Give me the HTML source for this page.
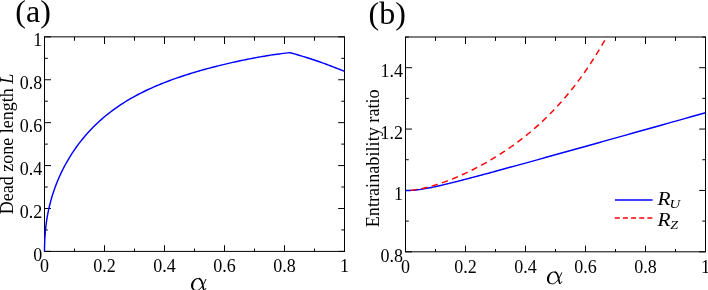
<!DOCTYPE html><html><head><meta charset="utf-8"><style>html,body{margin:0;padding:0;background:#fff}svg{display:block;will-change:transform;opacity:0.999}text{font-family:"Liberation Serif",serif;fill:#000}</style></head><body>
<svg width="708" height="290" viewBox="0 0 708 290">
<rect width="708" height="290" fill="#fff"/>
<text x="15.3" y="21.7" font-size="32">(a)</text>
<text x="368.5" y="23.5" font-size="32">(b)</text>
<path d="M44.50,251.4v-6.2M44.50,36.85v7.1M104.50,251.4v-6.2M104.50,36.85v7.1M164.50,251.4v-6.2M164.50,36.85v7.1M224.50,251.4v-6.2M224.50,36.85v7.1M284.50,251.4v-6.2M284.50,36.85v7.1M344.50,251.4v-6.2M344.50,36.85v7.1M74.50,251.4v-2.8M74.50,36.85v3.9M134.50,251.4v-2.8M134.50,36.85v3.9M194.50,251.4v-2.8M194.50,36.85v3.9M254.50,251.4v-2.8M254.50,36.85v3.9M314.50,251.4v-2.8M314.50,36.85v3.9M44.5,251.40h6.5M344.5,251.40h-6.3M44.5,208.49h6.5M344.5,208.49h-6.3M44.5,165.58h6.5M344.5,165.58h-6.3M44.5,122.67h6.5M344.5,122.67h-6.3M44.5,79.76h6.5M344.5,79.76h-6.3M44.5,36.85h6.5M344.5,36.85h-6.3M44.5,229.94h3.3M344.5,229.94h-3.2M44.5,187.03h3.3M344.5,187.03h-3.2M44.5,144.12h3.3M344.5,144.12h-3.2M44.5,101.22h3.3M344.5,101.22h-3.2M44.5,58.31h3.3M344.5,58.31h-3.2" stroke="#000" stroke-width="1.0" fill="none"/>
<rect x="44.5" y="36.85" width="300.0" height="214.55" fill="none" stroke="#000" stroke-width="1.0"/>
<path d="M405.50,251.8v-6.2M405.50,37.0v7.1M465.50,251.8v-6.2M465.50,37.0v7.1M525.50,251.8v-6.2M525.50,37.0v7.1M585.50,251.8v-6.2M585.50,37.0v7.1M645.50,251.8v-6.2M645.50,37.0v7.1M705.50,251.8v-6.2M705.50,37.0v7.1M435.50,251.8v-2.8M435.50,37.0v3.9M495.50,251.8v-2.8M495.50,37.0v3.9M555.50,251.8v-2.8M555.50,37.0v3.9M615.50,251.8v-2.8M615.50,37.0v3.9M675.50,251.8v-2.8M675.50,37.0v3.9M405.5,251.80h6.5M705.5,251.80h-6.3M405.5,190.43h6.5M705.5,190.43h-6.3M405.5,129.06h6.5M705.5,129.06h-6.3M405.5,67.69h6.5M705.5,67.69h-6.3M405.5,221.11h3.3M705.5,221.11h-3.2M405.5,159.74h3.3M705.5,159.74h-3.2M405.5,98.37h3.3M705.5,98.37h-3.2M405.5,37.00h3.3M705.5,37.00h-3.2" stroke="#000" stroke-width="1.0" fill="none"/>
<rect x="405.5" y="37.0" width="300.0" height="214.8" fill="none" stroke="#000" stroke-width="1.0"/>
<clipPath id="cb"><rect x="404.5" y="36.5" width="301.6" height="216.8"/></clipPath>
<path d="M44.50,251.40 L44.50,249.90 L44.52,248.41 L44.54,246.94 L44.57,245.48 L44.61,244.03 L44.66,242.60 L44.71,241.17 L44.78,239.76 L44.85,238.36 L44.93,236.97 L45.02,235.60 L45.12,234.23 L45.23,232.87 L45.34,231.52 L45.47,230.18 L45.60,228.84 L45.75,227.52 L45.90,226.20 L46.06,224.89 L46.22,223.59 L46.40,222.29 L46.59,221.01 L46.78,219.72 L46.98,218.45 L47.19,217.18 L47.41,215.91 L47.64,214.65 L47.88,213.40 L48.12,212.15 L48.38,210.90 L48.64,209.66 L48.91,208.43 L49.19,207.20 L49.48,205.97 L49.78,204.75 L50.08,203.53 L50.40,202.32 L50.72,201.11 L51.05,199.90 L51.39,198.70 L51.74,197.50 L52.10,196.30 L52.47,195.11 L52.84,193.92 L53.23,192.74 L53.62,191.56 L54.02,190.38 L54.43,189.20 L54.85,188.03 L55.27,186.86 L55.71,185.69 L56.15,184.53 L56.60,183.37 L57.07,182.21 L57.54,181.06 L58.01,179.91 L58.50,178.76 L59.00,177.62 L59.50,176.48 L61.61,171.93 L63.73,167.70 L65.84,163.75 L67.95,160.03 L70.06,156.52 L72.18,153.19 L74.29,150.03 L76.40,147.01 L78.52,144.14 L80.63,141.39 L82.74,138.75 L84.85,136.22 L86.97,133.80 L89.08,131.46 L91.19,129.21 L93.31,127.05 L95.42,124.96 L97.53,122.95 L99.64,121.01 L101.76,119.13 L103.87,117.31 L105.98,115.56 L108.10,113.86 L110.21,112.21 L112.32,110.62 L114.43,109.07 L116.55,107.57 L118.66,106.12 L120.77,104.71 L122.89,103.33 L125.00,102.00 L127.11,100.71 L129.22,99.45 L131.34,98.22 L133.45,97.03 L135.56,95.87 L137.68,94.74 L139.79,93.64 L141.90,92.57 L144.01,91.52 L146.13,90.50 L148.24,89.51 L150.35,88.54 L152.47,87.59 L154.58,86.66 L156.69,85.75 L158.80,84.87 L160.92,84.00 L163.03,83.15 L165.14,82.32 L167.26,81.51 L169.37,80.71 L171.48,79.93 L173.59,79.17 L175.71,78.42 L177.82,77.68 L179.93,76.96 L182.04,76.25 L184.16,75.56 L186.27,74.88 L188.38,74.20 L190.50,73.55 L192.61,72.90 L194.72,72.26 L196.83,71.64 L198.95,71.02 L201.06,70.41 L203.17,69.82 L205.29,69.23 L207.40,68.65 L209.51,68.09 L211.62,67.53 L213.74,66.98 L215.85,66.43 L217.96,65.90 L220.08,65.38 L222.19,64.86 L224.30,64.35 L226.41,63.85 L228.53,63.36 L230.64,62.87 L232.75,62.39 L234.87,61.92 L236.98,61.46 L239.09,61.01 L241.20,60.56 L243.32,60.12 L245.43,59.69 L247.54,59.26 L249.66,58.85 L251.77,58.44 L253.88,58.04 L255.99,57.65 L258.11,57.27 L260.22,56.89 L262.33,56.53 L264.45,56.17 L266.56,55.82 L268.67,55.48 L270.78,55.15 L272.90,54.82 L275.01,54.51 L277.12,54.21 L279.24,53.92 L281.35,53.63 L283.46,53.36 L285.57,53.10 L287.69,52.85 L289.80,52.61 L292.08,53.24 L294.36,53.88 L296.64,54.53 L298.92,55.20 L301.20,55.88 L303.48,56.57 L305.75,57.28 L308.03,58.00 L310.31,58.74 L312.59,59.48 L314.87,60.25 L317.15,61.02 L319.43,61.81 L321.71,62.61 L323.99,63.42 L326.27,64.25 L328.55,65.09 L330.82,65.95 L333.10,66.82 L335.38,67.70 L337.66,68.59 L339.94,69.50 L342.22,70.42 L344.50,71.36" fill="none" stroke="#0000ff" stroke-width="1.45" stroke-linejoin="round"/>
<g clip-path="url(#cb)"><path d="M405.50,190.60 L407.03,190.59 L408.55,190.55 L410.08,190.48 L411.60,190.39 L413.13,190.28 L414.65,190.14 L416.18,189.98 L417.70,189.80 L419.23,189.60 L420.75,189.38 L422.28,189.15 L423.81,188.90 L425.33,188.64 L426.86,188.36 L428.38,188.08 L429.91,187.78 L431.43,187.48 L432.96,187.16 L434.48,186.84 L436.01,186.51 L437.53,186.17 L439.06,185.83 L440.58,185.48 L442.11,185.13 L443.64,184.77 L445.16,184.40 L446.69,184.04 L448.21,183.67 L449.74,183.29 L451.26,182.92 L452.79,182.54 L454.31,182.16 L455.84,181.77 L457.36,181.38 L458.89,181.00 L460.42,180.60 L461.94,180.21 L463.47,179.82 L464.99,179.42 L466.52,179.02 L468.04,178.63 L469.57,178.22 L471.09,177.82 L472.62,177.42 L474.14,177.02 L475.67,176.61 L477.19,176.21 L478.72,175.80 L480.25,175.39 L481.77,174.98 L483.30,174.57 L484.82,174.16 L486.35,173.75 L487.87,173.34 L489.40,172.93 L490.92,172.52 L492.45,172.10 L493.97,171.69 L495.50,171.28 L502.74,169.30 L509.98,167.32 L517.22,165.33 L524.47,163.34 L531.71,161.34 L538.95,159.33 L546.19,157.32 L553.43,155.31 L560.67,153.30 L567.91,151.28 L575.16,149.26 L582.40,147.24 L589.64,145.22 L596.88,143.20 L604.12,141.17 L611.36,139.15 L618.60,137.12 L625.84,135.09 L633.09,133.07 L640.33,131.04 L647.57,129.01 L654.81,126.98 L662.05,124.94 L669.29,122.91 L676.53,120.88 L683.78,118.85 L691.02,116.82 L698.26,114.78 L705.50,112.75" fill="none" stroke="#0000ff" stroke-width="1.45"/>
<path d="M410.65,190.38 L412.65,190.14 L414.66,189.86 L416.66,189.54 L418.66,189.19 L420.67,188.81 L422.67,188.39 L424.67,187.94 L426.68,187.47 L428.68,186.96 L430.69,186.42 L432.69,185.86 L434.69,185.26 L436.70,184.65 L438.70,184.00 L440.70,183.33 L442.71,182.64 L444.71,181.93 L446.71,181.19 L448.72,180.43 L450.72,179.65 L452.72,178.85 L454.73,178.02 L456.73,177.18 L458.73,176.32 L460.74,175.43 L462.74,174.53 L464.75,173.61 L466.75,172.67 L468.75,171.70 L470.76,170.72 L472.76,169.73 L474.76,168.71 L476.77,167.67 L478.77,166.62 L480.77,165.54 L482.78,164.45 L484.78,163.34 L486.78,162.21 L488.79,161.05 L490.79,159.88 L492.79,158.69 L494.80,157.48 L496.80,156.24 L498.81,154.99 L500.81,153.71 L502.81,152.41 L504.82,151.09 L506.82,149.75 L508.82,148.38 L510.83,146.99 L512.83,145.57 L514.83,144.13 L516.84,142.66 L518.84,141.17 L520.84,139.64 L522.85,138.09 L524.85,136.52 L526.86,134.91 L528.86,133.27 L530.86,131.60 L532.87,129.90 L534.87,128.17 L536.87,126.41 L538.88,124.61 L540.88,122.77 L542.88,120.90 L544.89,119.00 L546.89,117.05 L548.89,115.07 L550.90,113.05 L552.90,110.99 L554.90,108.88 L556.91,106.74 L558.91,104.55 L560.92,102.32 L562.92,100.04 L564.92,97.72 L566.93,95.34 L568.93,92.93 L570.93,90.46 L572.94,87.94 L574.94,85.37 L576.94,82.75 L578.95,80.07 L580.95,77.34 L582.95,74.55 L584.96,71.71 L586.96,68.81 L588.96,65.85 L590.97,62.84 L592.97,59.76 L594.98,56.62 L596.98,53.41 L598.98,50.15 L600.99,46.81 L602.99,43.41 L604.99,39.95 L607.00,36.41 L609.00,32.81" fill="none" stroke="#ff0000" stroke-width="1.45" stroke-dasharray="6.3 4.45"/></g>
<text x="44.50" y="272.4" font-size="18" text-anchor="middle">0</text>
<text x="104.50" y="272.4" font-size="18" text-anchor="middle">0.2</text>
<text x="164.50" y="272.4" font-size="18" text-anchor="middle">0.4</text>
<text x="224.50" y="272.4" font-size="18" text-anchor="middle">0.6</text>
<text x="284.50" y="272.4" font-size="18" text-anchor="middle">0.8</text>
<text x="344.50" y="272.4" font-size="18" text-anchor="middle">1</text>
<text x="42.2" y="260.70" font-size="18" text-anchor="end">0</text>
<text x="42.2" y="217.79" font-size="18" text-anchor="end">0.2</text>
<text x="42.2" y="174.88" font-size="18" text-anchor="end">0.4</text>
<text x="42.2" y="131.97" font-size="18" text-anchor="end">0.6</text>
<text x="42.2" y="89.06" font-size="18" text-anchor="end">0.8</text>
<text x="42.2" y="46.15" font-size="18" text-anchor="end">1</text>
<text x="405.50" y="272.7" font-size="18" text-anchor="middle">0</text>
<text x="465.50" y="272.7" font-size="18" text-anchor="middle">0.2</text>
<text x="525.50" y="272.7" font-size="18" text-anchor="middle">0.4</text>
<text x="585.50" y="272.7" font-size="18" text-anchor="middle">0.6</text>
<text x="645.50" y="272.7" font-size="18" text-anchor="middle">0.8</text>
<text x="705.50" y="272.7" font-size="18" text-anchor="middle">1</text>
<text x="403.0" y="261.50" font-size="18" text-anchor="end">0.8</text>
<text x="403.0" y="200.13" font-size="18" text-anchor="end">1</text>
<text x="403.0" y="138.76" font-size="18" text-anchor="end">1.2</text>
<text x="403.0" y="77.39" font-size="18" text-anchor="end">1.4</text>
<text transform="translate(13,214.3) rotate(-90)" font-size="18">Dead zone length <tspan font-style="italic">L</tspan></text>
<text transform="translate(378.6,227.3) rotate(-90)" font-size="18" textLength="138" lengthAdjust="spacingAndGlyphs">Entrainability ratio</text>
<g transform="translate(191.0,278.1)"><path d="M14.8,1.3 C13.5,4.4 11.4,8.6 8.9,10.9 C7.6,12.1 6.0,12.5 4.9,12.3 C2.6,11.9 1.0,10.0 1.0,7.4 C1.0,3.6 3.9,0.5 7.0,0.5 C9.4,0.5 10.6,2.6 11.2,5.2 C11.7,7.6 12.1,10.4 12.8,11.6 C13.3,12.5 14.1,11.9 14.8,10.3" fill="none" stroke="#000" stroke-width="0.95" stroke-linecap="round" stroke-linejoin="round"/>
<path d="M6.6,0.15 C3.0,0.4 0.0,3.8 0.0,7.6 C0.0,10.6 2.0,12.6 4.7,12.6 C3.2,12.1 2.2,10.6 2.2,8.2 C2.2,5.0 3.9,1.2 6.6,0.15 Z" fill="#000"/>
<path d="M8.3,0.45 C10.2,1.2 10.9,3.4 11.4,5.6 C11.9,7.9 12.2,10.6 12.9,11.8" fill="none" stroke="#000" stroke-width="1.5" stroke-linecap="round"/></g>
<g transform="translate(546.9,271.5)"><path d="M14.8,1.3 C13.5,4.4 11.4,8.6 8.9,10.9 C7.6,12.1 6.0,12.5 4.9,12.3 C2.6,11.9 1.0,10.0 1.0,7.4 C1.0,3.6 3.9,0.5 7.0,0.5 C9.4,0.5 10.6,2.6 11.2,5.2 C11.7,7.6 12.1,10.4 12.8,11.6 C13.3,12.5 14.1,11.9 14.8,10.3" fill="none" stroke="#000" stroke-width="0.95" stroke-linecap="round" stroke-linejoin="round"/>
<path d="M6.6,0.15 C3.0,0.4 0.0,3.8 0.0,7.6 C0.0,10.6 2.0,12.6 4.7,12.6 C3.2,12.1 2.2,10.6 2.2,8.2 C2.2,5.0 3.9,1.2 6.6,0.15 Z" fill="#000"/>
<path d="M8.3,0.45 C10.2,1.2 10.9,3.4 11.4,5.6 C11.9,7.9 12.2,10.6 12.9,11.8" fill="none" stroke="#000" stroke-width="1.5" stroke-linecap="round"/></g>
<path d="M615,199.9H652.6" stroke="#0000ff" stroke-width="1.45"/>
<path d="M614.8,217.9H652.6" stroke="#ff0000" stroke-width="1.45" stroke-dasharray="5.0 3.15"/>
<text transform="translate(657.6,205.2) scale(1.15,1)" font-size="18.5" font-style="italic">R</text>
<text transform="translate(669.6,208.2) scale(1.12,1)" font-size="13.2" font-style="italic">U</text>
<text transform="translate(657.6,225.9) scale(1.15,1)" font-size="18.5" font-style="italic">R</text>
<text transform="translate(670.2,228.5) scale(1.12,1)" font-size="12.6" font-style="italic">Z</text>
</svg></body></html>
